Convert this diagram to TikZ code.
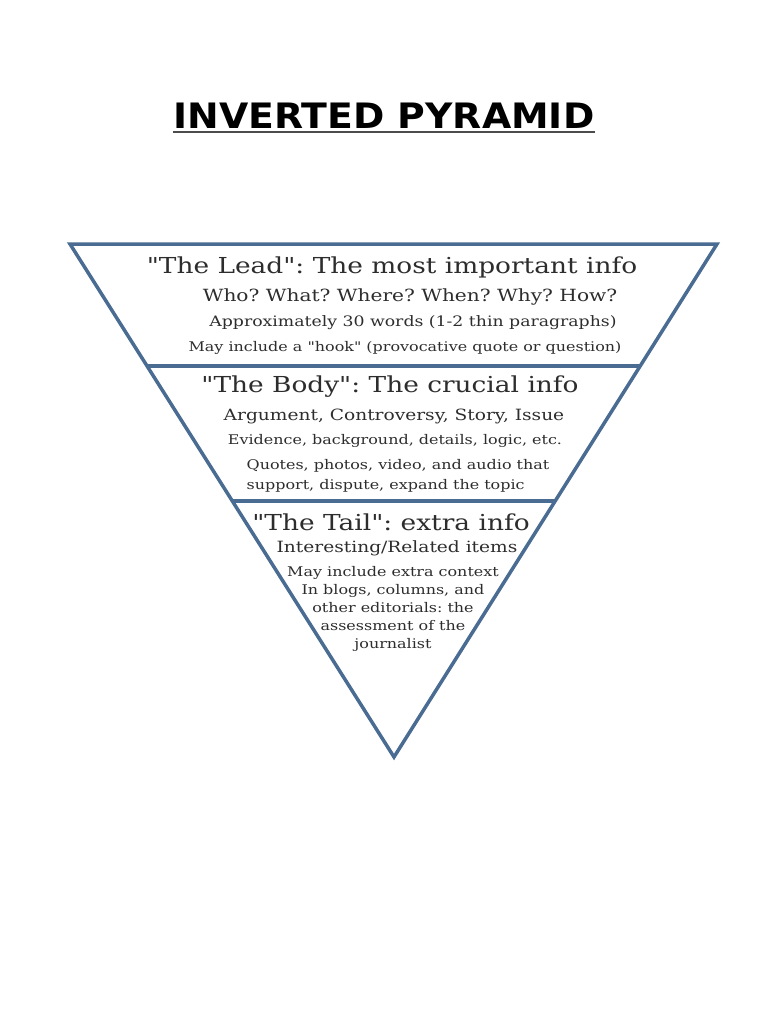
\documentclass[tikz,border=0pt]{standalone}
\usepackage{fontspec}
\setmainfont{DejaVu Serif}[FakeStretch=1.2, Ligatures=TeXOff]
\newfontfamily\titlefont{DejaVu Sans}[FakeStretch=1.08]
\usetikzlibrary{positioning,calc}
\definecolor{pyrblue}{RGB}{74,108,146}
\definecolor{pyrtext}{RGB}{45,45,45}
\tikzset{
	head/.style={font=\fontsize{22}{22}\selectfont, text=pyrtext, inner sep=0pt},
	sub/.style={font=\fontsize{15.5}{15.5}\selectfont, text=pyrtext, inner sep=0pt},
	small/.style={font=\fontsize{13.3}{18}\selectfont, text=pyrtext, inner sep=0pt},
}

\begin{document}
\frenchspacing
\begin{tikzpicture}[x=1pt, y=-1pt]
	\useasboundingbox (0,0) rectangle (768,1024);
	% title
	\node[font=\titlefont\bfseries\fontsize{35}{35}\selectfont, inner sep=0pt] (title) at (384,116) {INVERTED PYRAMID};
	\draw[line width=1.5pt, black!70] ([yshift=-3pt]title.south west) -- ([yshift=-3pt]title.south east);

	% the pyramid
	\begin{scope}
		\tikzstyle{every path}=[draw=pyrblue, line width=3.5pt, line join=miter]
		\coordinate (tl) at (70,244);
		\coordinate (tr) at (717,244);
		\coordinate (tip) at (394,757);
		\draw (tl) -- (tr) -- (tip) -- cycle;
		\coordinate (d1l) at ($(tl)!0.238!(tip)$);
		\coordinate (d1r) at ($(tr)!0.238!(tip)$);
		\coordinate (d2l) at ($(tl)!0.501!(tip)$);
		\coordinate (d2r) at ($(tr)!0.501!(tip)$);
		\draw (d1l) -- (d1r);
		\draw (d2l) -- (d2r);
	\end{scope}

	% the lead
	\node[head] (lead) at (392,267) {"The Lead": The most important info};
	\node[sub, font=\fontsize{16.8}{16.8}\selectfont] (lead1) at (410,297) {Who? What? Where? When? Why? How?};
	\node[sub, font=\fontsize{14.4}{14.4}\selectfont] (lead2) at (413,323) {Approximately 30 words (1-2 thin paragraphs)};
	\node[small] (lead3) at (405,348) {May include a "hook" (provocative quote or question)};

	% the body
	\node[head] (body) at (390,387) {"The Body": The crucial info};
	\node[sub] (body1) at (394,416) {Argument, Controversy, Story, Issue};
	\node[small] (body2) at (395,441) {Evidence, background, details, logic, etc.};
	\node[small, align=left] (body3) at (398,476) {Quotes, photos, video, and audio that\\[2pt]support, dispute, expand the topic};

	% the tail
	\node[head] (tail) at (391,522) {"The Tail": extra info};
	\node[sub] (tail1) at (397,548) {Interesting/Related items};
	\node[small, align=center] (tail2) at (393,609) {May include extra context\\In blogs, columns, and\\other editorials: the\\assessment of the\\journalist};
\end{tikzpicture}
\end{document}
